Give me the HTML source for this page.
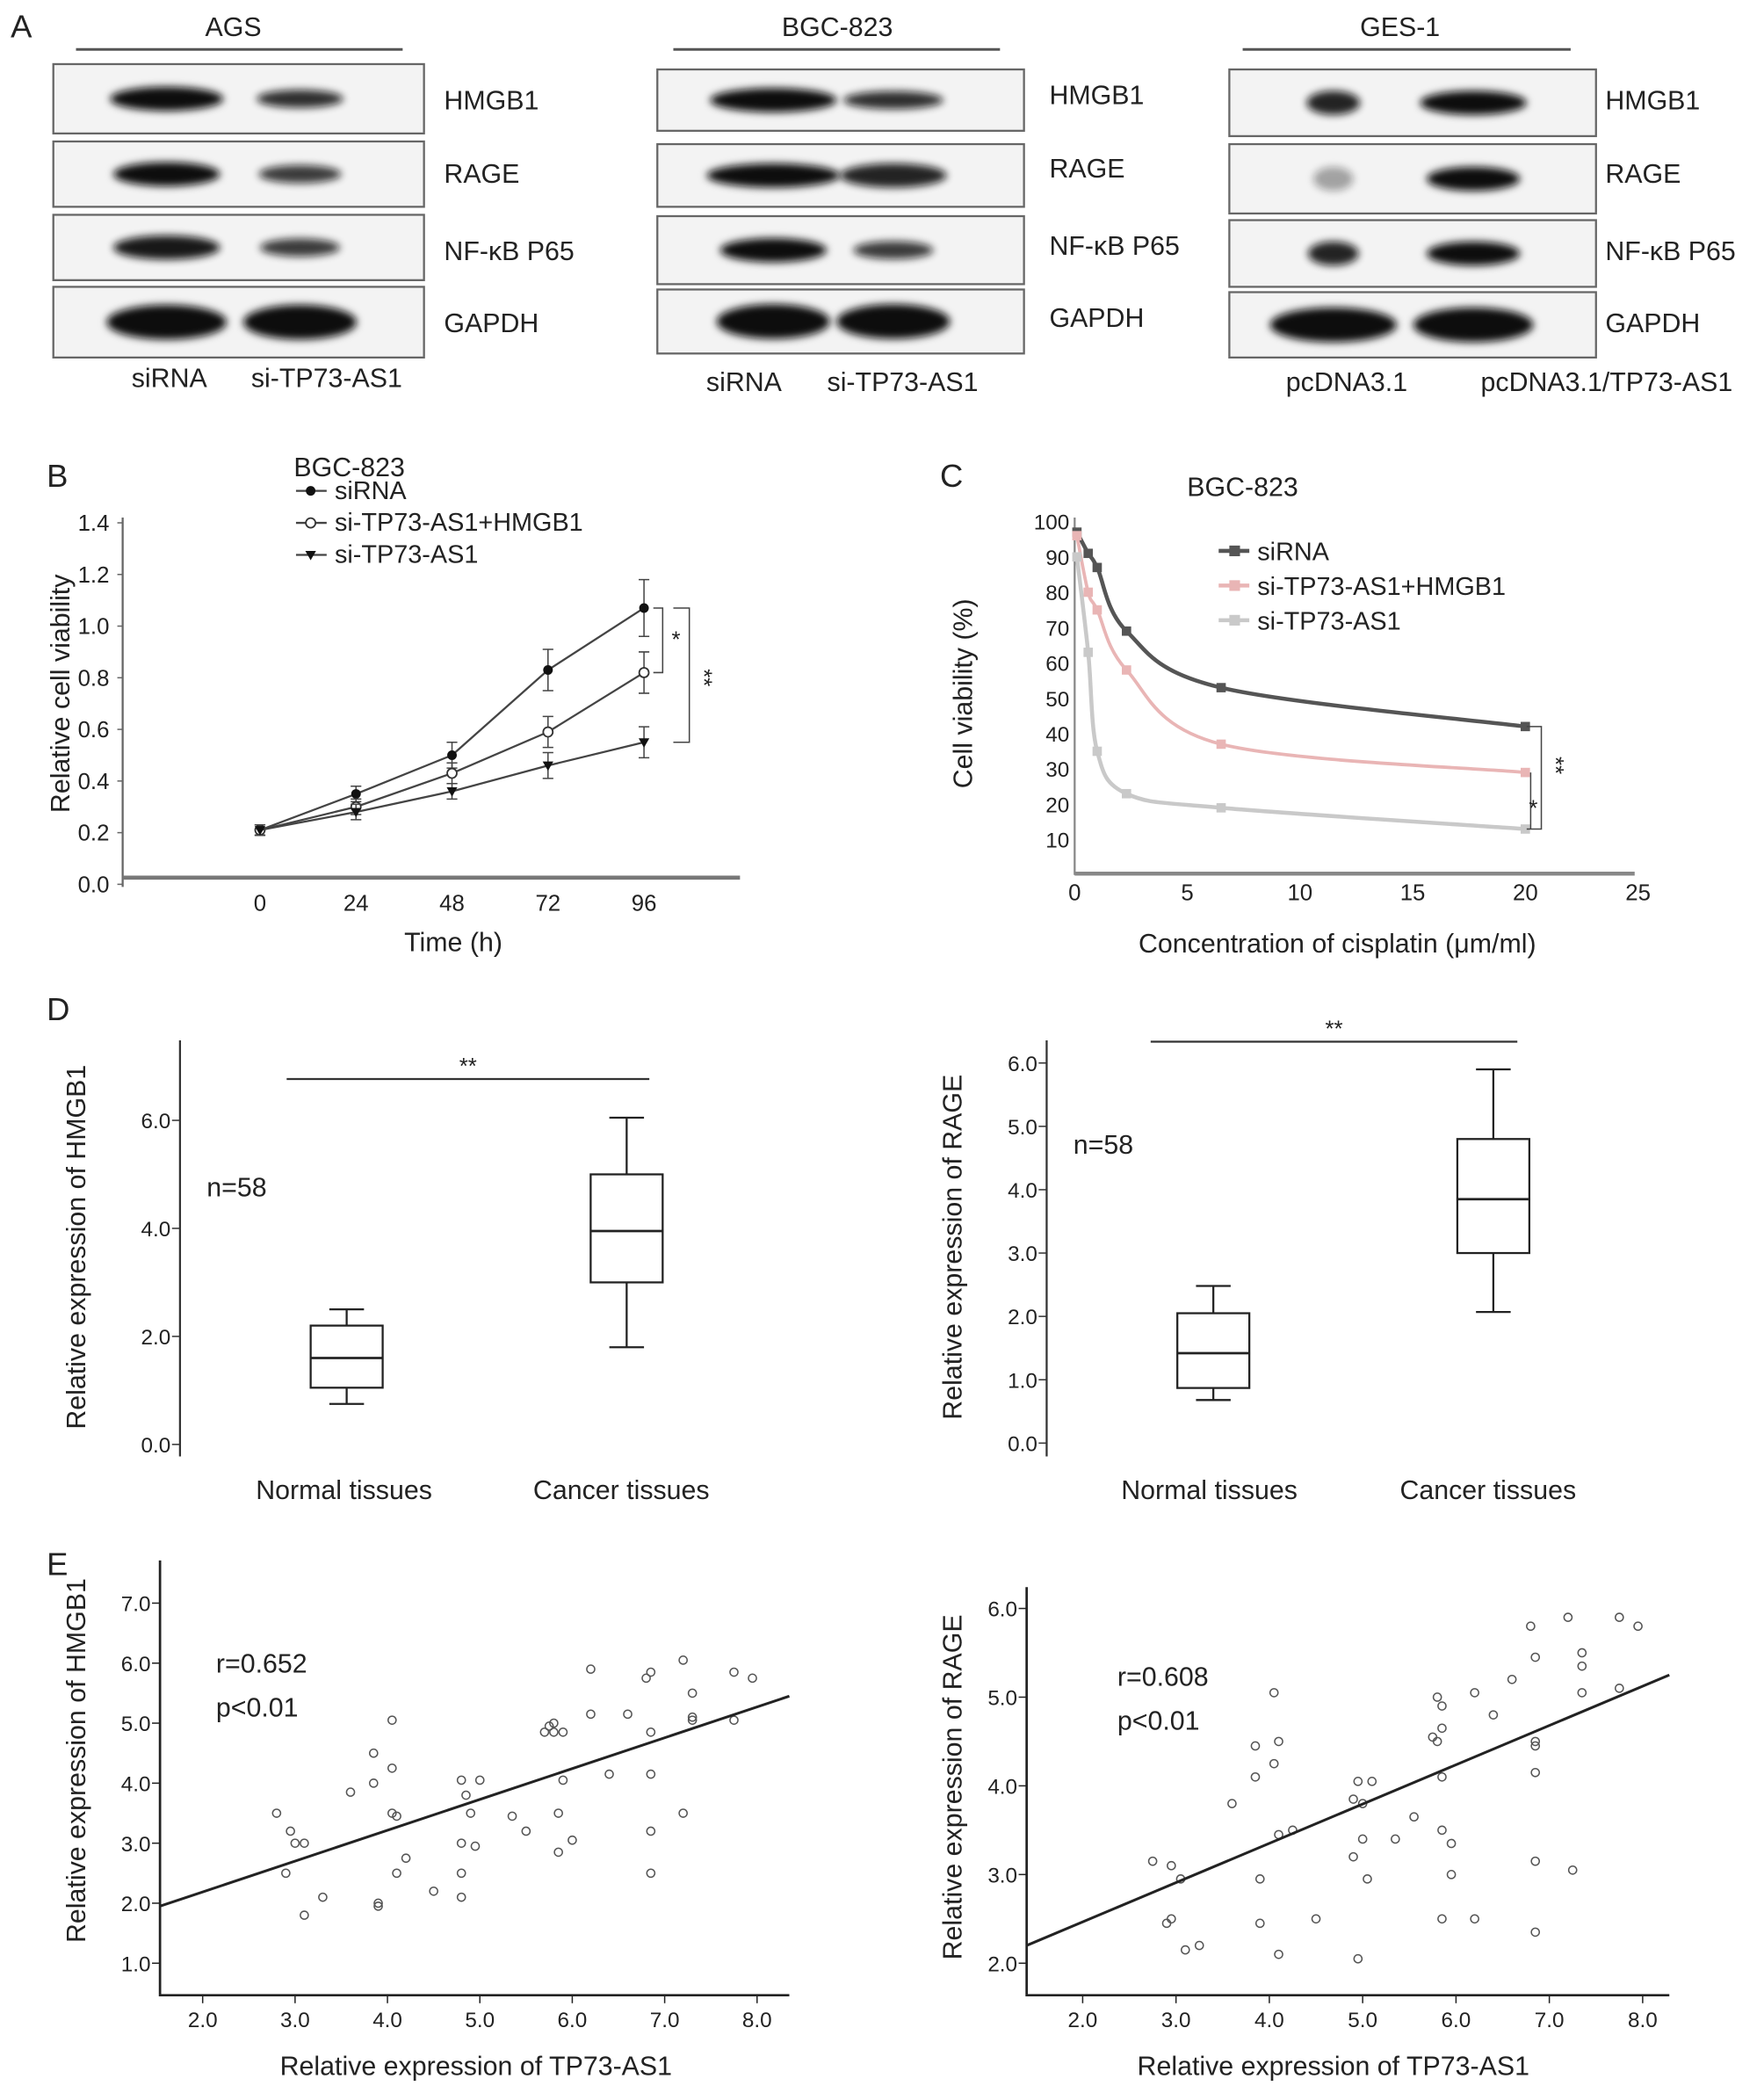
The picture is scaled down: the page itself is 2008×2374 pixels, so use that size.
<!DOCTYPE html>
<html><head><meta charset="utf-8">
<style>
html,body{margin:0;padding:0;background:#fff;}
svg{display:block;font-family:"Liberation Sans",sans-serif;}
text{fill:#222;}
</style></head>
<body>
<svg id="fig" width="2008" height="2374" viewBox="0 0 1323 1564" xmlns="http://www.w3.org/2000/svg">
<defs>
<filter id="blur" x="-30%" y="-100%" width="160%" height="300%"><feGaussianBlur stdDeviation="3"/></filter>
</defs>
</svg>
<script>
// ---------- Panel B data ----------
const bTimes = [0, 24, 48, 72, 96];
const bSiRNA = [0.21, 0.35, 0.50, 0.83, 1.07];
const bSiRNAErr = [0.02, 0.03, 0.05, 0.08, 0.11];
const bHmgb = [0.21, 0.30, 0.43, 0.59, 0.82];
const bHmgbErr = [0.02, 0.03, 0.04, 0.06, 0.08];
const bSiTP = [0.21, 0.28, 0.36, 0.46, 0.55];
const bSiTPErr = [0.02, 0.03, 0.03, 0.05, 0.06];
const bYTicks = [0.0, 0.2, 0.4, 0.6, 0.8, 1.0, 1.2, 1.4];
// ---------- Panel C data ----------
const cConc = [0.1, 0.6, 1.0, 2.3, 6.5, 20];
const cSiRNA = [97, 91, 87, 69, 53, 42];
const cHmgb = [96, 80, 75, 58, 37, 29];
const cSiTP = [90, 63, 35, 23, 19, 13];
const cYTicks = [10, 20, 30, 40, 50, 60, 70, 80, 90, 100];
const cXTicks = [0, 5, 10, 15, 20, 25];
// ---------- Panel D data (box plots: min,q1,median,q3,max) ----------
const dCats = ["Normal tissues", "Cancer tissues"];
const dHmgbBoxes = [[0.75, 1.05, 1.6, 2.2, 2.5], [1.8, 3.0, 3.95, 5.0, 6.05]];
const dRageBoxes = [[0.68, 0.87, 1.42, 2.05, 2.48], [2.07, 3.0, 3.85, 4.8, 5.9]];
const dHmgbTicks = [0.0, 2.0, 4.0, 6.0];
const dRageTicks = [0.0, 1.0, 2.0, 3.0, 4.0, 5.0, 6.0];
// ---------- Panel E data ----------
const eHmgbX = [2.8,2.9,2.95,3.0,3.1,3.1,3.3,3.6,3.85,3.85,3.9,3.9,4.05,4.05,4.05,4.1,4.1,4.2,4.5,4.8,4.8,4.8,4.8,4.85,4.9,4.95,5.0,5.35,5.5,5.7,5.75,5.8,5.8,5.85,5.85,5.9,5.9,6.0,6.2,6.2,6.4,6.6,6.8,6.85,6.85,6.85,6.85,6.85,7.2,7.2,7.3,7.3,7.3,7.75,7.75,7.95];
const eHmgbY = [3.5,2.5,3.2,3.0,3.0,1.8,2.1,3.85,4.0,4.5,2.0,1.95,5.05,4.25,3.5,3.45,2.5,2.75,2.2,4.05,3.0,2.5,2.1,3.8,3.5,2.95,4.05,3.45,3.2,4.85,4.95,5.0,4.85,3.5,2.85,4.05,4.85,3.05,5.9,5.15,4.15,5.15,5.75,5.85,4.85,4.15,3.2,2.5,6.05,3.5,5.5,5.1,5.05,5.85,5.05,5.75];
const eRageX = [2.75,2.9,2.95,2.95,3.05,3.1,3.25,3.6,3.85,3.85,3.9,3.9,4.05,4.05,4.1,4.1,4.1,4.25,4.5,4.9,4.9,4.95,4.95,5.0,5.0,5.05,5.1,5.35,5.55,5.75,5.8,5.8,5.85,5.85,5.85,5.85,5.85,5.95,5.95,6.2,6.2,6.4,6.6,6.8,6.85,6.85,6.85,6.85,6.85,6.85,7.2,7.25,7.35,7.35,7.35,7.75,7.75,7.95];
const eRageY = [3.15,2.45,2.5,3.1,2.95,2.15,2.2,3.8,4.1,4.45,2.95,2.45,5.05,4.25,4.5,3.45,2.1,3.5,2.5,3.85,3.2,4.05,2.05,3.8,3.4,2.95,4.05,3.4,3.65,4.55,5.0,4.5,4.65,4.9,4.1,3.5,2.5,3.35,3.0,5.05,2.5,4.8,5.2,5.8,5.45,4.5,4.45,4.15,3.15,2.35,5.9,3.05,5.5,5.35,5.05,5.9,5.1,5.8];
const eXTicks = [2.0, 3.0, 4.0, 5.0, 6.0, 7.0, 8.0];
const eHmgbYTicks = [1.0, 2.0, 3.0, 4.0, 5.0, 6.0, 7.0];
const eRageYTicks = [2.0, 3.0, 4.0, 5.0, 6.0];
const eHmgbFit = [1.95, 5.45];
const eRageFit = [2.2, 5.25];
// ---------- Blot band intensities ----------
const blotAGS = [[85,1,65,0.85],[80,1,62,0.8],[80,0.95,60,0.8],[90,1,85,1]];
const blotBGC = [[95,1,75,0.85],[100,1,80,0.9],[80,1,60,0.8],[85,1,85,1]];
const blotGES = [[40,0.9,80,1],[30,0.35,70,1],[38,0.9,70,1],[95,1,90,1]];

const NS = "http://www.w3.org/2000/svg";
const svg = document.getElementById("fig");
function mk(tag, attrs, parent) {
  const e = document.createElementNS(NS, tag);
  for (const k in attrs) e.setAttribute(k, attrs[k]);
  (parent || svg).appendChild(e);
  return e;
}
function txt(x, y, s, size, anchor, parent, extra) {
  const t = mk("text", Object.assign({x: x, y: y, "font-size": size, "text-anchor": anchor || "start"}, extra || {}), parent);
  t.textContent = s;
  return t;
}
function group(name) {
  const g = mk("g", {});
  
  
  return g;
}

// ================= Panel A =================
const pa = group("panel-a-western-blots");
let t = txt(8, 28, "A", 24, "start", pa);


const protLabels = ["HMGB1", "RAGE", "NF-\u03baB P65", "GAPDH"];
const blotSets = [
  {name: "AGS", title: "AGS", tx: 175, lx0: 57, lx1: 302, bx0: 40, bx1: 318, rows: [[48,100],[106,155],[161,210],[215,268]], labX: 333, labY: [82,137,195,249], c1: 125, c2: 225, data: blotAGS, bottom: ["siRNA", "si-TP73-AS1"], bottomX: [127, 245], bottomY: 290},
  {name: "BGC-823", title: "BGC-823", tx: 628, lx0: 505, lx1: 750, bx0: 493, bx1: 768, rows: [[52,98],[108,155],[162,213],[217,265]], labX: 787, labY: [78,133,191,245], c1: 580, c2: 670, data: blotBGC, bottom: ["siRNA", "si-TP73-AS1"], bottomX: [558, 677], bottomY: 293},
  {name: "GES-1", title: "GES-1", tx: 1050, lx0: 932, lx1: 1178, bx0: 922, bx1: 1197, rows: [[52,102],[108,160],[165,215],[219,268]], labX: 1204, labY: [82,137,195,249], c1: 1000, c2: 1105, data: blotGES, bottom: ["pcDNA3.1", "pcDNA3.1/TP73-AS1"], bottomX: [1010, 1205], bottomY: 293}
];
blotSets.forEach(function (s) {
  const g = mk("g", {}, pa);
  
  
  const tt = txt(s.tx, 27, s.title, 20, "middle", g);
  
  
  const ln = mk("line", {x1: s.lx0, x2: s.lx1, y1: 37, y2: 37, stroke: "#555", "stroke-width": 2}, g);
  
  
  s.rows.forEach(function (r, i) {
    const box = mk("rect", {x: s.bx0, y: r[0], width: s.bx1 - s.bx0, height: r[1] - r[0], fill: "#f3f3f3", stroke: "#666", "stroke-width": 1.5}, g);
    
    
    const cy = (r[0] + r[1]) / 2;
    const d = s.data[i];
    const h = (i === 3) ? 13 : 9;
    const b1 = mk("ellipse", {cx: s.c1, cy: cy, rx: d[0] / 2, ry: h, fill: "#111", opacity: d[1], filter: "url(#blur)"}, g);
    
    
    const b2 = mk("ellipse", {cx: s.c2, cy: cy, rx: d[2] / 2, ry: h * (d[3] < 0.9 ? 0.75 : 1), fill: "#111", opacity: d[3], filter: "url(#blur)"}, g);
    
    
    const pl = txt(s.labX, s.labY[i], protLabels[i], 20, "start", g);
    
    
  });
  s.bottom.forEach(function (lab, i) {
    const bl = txt(s.bottomX[i], s.bottomY, lab, 20, "middle", g);
    
    
  });
});

// ================= Panel B =================
const pb = group("panel-b-viability-chart");
t = txt(35, 365, "B", 24, "start", pb);


t = txt(262, 357, "BGC-823", 20, "middle", pb);


function bx(v) { return 195 + v * 3.0; }
function by(v) { return 663 - v * 193.6; }
let ax = mk("line", {x1: 92, x2: 92, y1: 388, y2: 665, stroke: "#666", "stroke-width": 1.5}, pb);


ax = mk("line", {x1: 92, x2: 555, y1: 658, y2: 658, stroke: "#777", "stroke-width": 3}, pb);


bYTicks.forEach(function (v) {
  const tk = mk("line", {x1: 88, x2: 92, y1: by(v), y2: by(v), stroke: "#666"}, pb);
  
  
  const tl = txt(82, by(v) + 6, v.toFixed(1), 17, "end", pb);
  
  
});
bTimes.forEach(function (v) {
  const tl = txt(bx(v), 683, String(v), 17, "middle", pb);
  
  
});
t = txt(340, 713, "Time (h)", 20, "middle", pb);


t = txt(0, 0, "Relative cell viability", 20, "middle", pb, {transform: "translate(52,520) rotate(-90)"});


const bSeries = [
  {name: "siRNA", vals: bSiRNA, err: bSiRNAErr, marker: "filled-circle"},
  {name: "si-TP73-AS1+HMGB1", vals: bHmgb, err: bHmgbErr, marker: "open-circle"},
  {name: "si-TP73-AS1", vals: bSiTP, err: bSiTPErr, marker: "triangle"}
];
function drawMarker(kind, x, y, parent, color) {
  let m;
  if (kind === "filled-circle") m = mk("circle", {cx: x, cy: y, r: 3.6, fill: color || "#111"}, parent);
  else if (kind === "open-circle") m = mk("circle", {cx: x, cy: y, r: 3.6, fill: "#fff", stroke: "#333", "stroke-width": 1.2}, parent);
  else m = mk("path", {d: "M" + (x - 4) + "," + (y - 3) + " L" + (x + 4) + "," + (y - 3) + " L" + x + "," + (y + 4) + "Z", fill: "#111"}, parent);
  return m;
}
bSeries.forEach(function (s, si) {
  const g = mk("g", {}, pb);
  
  
  const pts = bTimes.map(function (tm, i) { return bx(tm) + "," + by(s.vals[i]); }).join(" ");
  const pl = mk("polyline", {points: pts, fill: "none", stroke: "#444", "stroke-width": 1.5}, g);
  
  
  bTimes.forEach(function (tm, i) {
    const x = bx(tm);
    const eb = mk("path", {d: "M" + x + "," + by(s.vals[i] - s.err[i]) + "V" + by(s.vals[i] + s.err[i]) + "M" + (x - 4) + "," + by(s.vals[i] - s.err[i]) + "h8M" + (x - 4) + "," + by(s.vals[i] + s.err[i]) + "h8", stroke: "#444", fill: "none", "stroke-width": 1}, g);
    
    
    const m = drawMarker(s.marker, x, by(s.vals[i]), g);
    
    
  });
  const ly = 374 + si * 24;
  const ll = mk("line", {x1: 222, x2: 245, y1: ly - 6, y2: ly - 6, stroke: "#444", "stroke-width": 1.5}, g);
  
  
  const lm = drawMarker(s.marker, 233, ly - 6, g);
  
  
  const lt = txt(251, ly, s.name, 19, "start", g);
  
  
});
let br = mk("path", {d: "M490," + by(1.07) + "h7V" + by(0.82) + "h-7", fill: "none", stroke: "#444"}, pb);


t = txt(507, by(0.95) + 6, "*", 17, "middle", pb);


br = mk("path", {d: "M505," + by(1.07) + "h12V" + by(0.55) + "h-12", fill: "none", stroke: "#444"}, pb);


t = txt(0, 0, "**", 17, "middle", pb, {transform: "translate(522," + by(0.8) + ") rotate(90)"});



// ================= Panel C =================
const pc = group("panel-c-cisplatin-chart");
t = txt(705, 365, "C", 24, "start", pc);


t = txt(932, 372, "BGC-823", 20, "middle", pc);


function cx(v) { return 806 + v * 16.9; }
function cy(v) { return 656 - v * 2.65; }
ax = mk("line", {x1: 806, x2: 806, y1: 388, y2: 656, stroke: "#888", "stroke-width": 1.5}, pc);


ax = mk("line", {x1: 806, x2: 1226, y1: 655, y2: 655, stroke: "#888", "stroke-width": 3}, pc);


cYTicks.forEach(function (v) {
  const tl = txt(802, cy(v) + 6, String(v), 16, "end", pc);
  
  
});
cXTicks.forEach(function (v) {
  const tl = txt(cx(v), 675, String(v), 17, "middle", pc);
  
  
});
t = txt(1003, 714, "Concentration of cisplatin (\u03bcm/ml)", 20, "middle", pc);


t = txt(0, 0, "Cell viability (%)", 20, "middle", pc, {transform: "translate(729,520) rotate(-90)"});


function smoothPath(xs, ys) {
  const p = xs.map(function (x, i) { return [x, ys[i]]; });
  let d = "M" + p[0][0] + "," + p[0][1];
  for (let i = 0; i < p.length - 1; i++) {
    const p0 = p[i - 1] || p[i], p1 = p[i], p2 = p[i + 1], p3 = p[i + 2] || p2;
    const c1 = [p1[0] + (p2[0] - p0[0]) / 6, p1[1] + (p2[1] - p0[1]) / 6];
    const c2 = [p2[0] - (p3[0] - p1[0]) / 6, p2[1] - (p3[1] - p1[1]) / 6];
    d += " C" + c1[0] + "," + c1[1] + " " + c2[0] + "," + c2[1] + " " + p2[0] + "," + p2[1];
  }
  return d;
}
const cSeries = [
  {name: "siRNA", vals: cSiRNA, color: "#555", w: 3},
  {name: "si-TP73-AS1+HMGB1", vals: cHmgb, color: "#e9b5b5", w: 2.5},
  {name: "si-TP73-AS1", vals: cSiTP, color: "#c9c9c9", w: 3}
];
cSeries.forEach(function (s, si) {
  const g = mk("g", {}, pc);
  
  
  const p = mk("path", {d: smoothPath(cConc.map(cx), s.vals.map(cy)), fill: "none", stroke: s.color, "stroke-width": s.w}, g);
  
  
  cConc.forEach(function (c, i) {
    const m = mk("rect", {x: cx(c) - 3.5, y: cy(s.vals[i]) - 3.5, width: 7, height: 7, fill: s.color}, g);
    
    
  });
  const ly = 420 + si * 26;
  const ll = mk("line", {x1: 914, x2: 937, y1: ly - 7, y2: ly - 7, stroke: s.color, "stroke-width": 3}, g);
  
  
  const lm = mk("rect", {x: 922, y: ly - 11, width: 8, height: 8, fill: s.color}, g);
  
  
  const lt = txt(943, ly, s.name, 19, "start", g);
  
  
});
br = mk("path", {d: "M1145," + cy(42) + "h11V" + cy(13) + "h-11", fill: "none", stroke: "#444"}, pc);


t = txt(0, 0, "**", 17, "middle", pc, {transform: "translate(1161," + cy(31) + ") rotate(90)"});


br = mk("path", {d: "M1148," + cy(29) + "V" + cy(13), fill: "none", stroke: "#444"}, pc);


t = txt(1150, cy(19) + 6, "*", 17, "middle", pc);



// ================= Panel D =================
const pd = group("panel-d-box-plots");
t = txt(35, 765, "D", 24, "start", pd);


function boxChart(o) {
  const g = mk("g", {}, pd);
  
  
  const Y = function (v) { return o.y0 - v * o.k; };
  const a = mk("line", {x1: o.ax, x2: o.ax, y1: 780, y2: 1092, stroke: "#333", "stroke-width": 1.5}, g);
  
  
  o.ticks.forEach(function (v) {
    const tk = mk("line", {x1: o.ax - 6, x2: o.ax, y1: Y(v), y2: Y(v), stroke: "#333"}, g);
    
    
    const tl = txt(o.ax - 7, Y(v) + 6, v.toFixed(1), 16, "end", g);
    
    
  });
  o.boxes.forEach(function (b, i) {
    const xc = o.xs[i], w = 27;
    const bg = mk("g", {}, g);
    
    
    const wh = mk("path", {d: "M" + xc + "," + Y(b[0]) + "V" + Y(b[1]) + "M" + xc + "," + Y(b[3]) + "V" + Y(b[4]) + "M" + (xc - 13) + "," + Y(b[0]) + "h26M" + (xc - 13) + "," + Y(b[4]) + "h26", stroke: "#222", "stroke-width": 1.5, fill: "none"}, bg);
    
    
    const r = mk("rect", {x: xc - w, y: Y(b[3]), width: 2 * w, height: Y(b[1]) - Y(b[3]), fill: "#fff", stroke: "#222", "stroke-width": 1.5}, bg);
    
    
    const md = mk("line", {x1: xc - w, x2: xc + w, y1: Y(b[2]), y2: Y(b[2]), stroke: "#222", "stroke-width": 1.8}, bg);
    
    
    const cl = txt(o.labX[i], 1124, dCats[i], 20, "middle", g);
    
    
  });
  const sl = mk("line", {x1: o.sig[0], x2: o.sig[1], y1: o.sig[2], y2: o.sig[2], stroke: "#333", "stroke-width": 1.5}, g);
  
  
  const st = txt((o.sig[0] + o.sig[1]) / 2, o.sig[2] - 4, "**", 17, "middle", g);
  
  
  const n = txt(o.n[0], o.n[1], "n=58", 20, "start", g);
  
  
  const yl = txt(0, 0, o.ylab, 20, "middle", g, {transform: "translate(" + o.ylx + ",935) rotate(-90)"});
  
  
}
boxChart({name: "hmgb1-box-chart", ax: 135, y0: 1083, k: 40.5, ticks: dHmgbTicks, boxes: dHmgbBoxes, xs: [260, 470], labX: [258, 466], sig: [215, 487, 809], n: [155, 897], ylab: "Relative expression of HMGB1", ylx: 64});
boxChart({name: "rage-box-chart", ax: 785, y0: 1082, k: 47.5, ticks: dRageTicks, boxes: dRageBoxes, xs: [910, 1120], labX: [907, 1116], sig: [863, 1138, 781], n: [805, 865], ylab: "Relative expression of RAGE", ylx: 721});

// ================= Panel E =================
const pe = group("panel-e-scatter-plots");
t = txt(35, 1181, "E", 24, "start", pe);


function scatter(o) {
  const g = mk("g", {}, pe);
  
  
  const X = function (v) { return o.x2 + (v - 2) * o.kx; };
  const Y = function (v) { return o.yb - (v - o.ybv) * o.ky; };
  const a = mk("path", {d: "M" + o.ax + "," + o.top + "V" + 1496 + "H" + o.right, fill: "none", stroke: "#222", "stroke-width": 1.8}, g);
  
  
  o.yticks.forEach(function (v) {
    const tk = mk("line", {x1: o.ax - 6, x2: o.ax, y1: Y(v), y2: Y(v), stroke: "#222"}, g);
    
    
    const tl = txt(o.ax - 7, Y(v) + 6, v.toFixed(1), 16, "end", g);
    
    
  });
  eXTicks.forEach(function (v) {
    const tk = mk("line", {x1: X(v), x2: X(v), y1: 1496, y2: 1502, stroke: "#222"}, g);
    
    
    const tl = txt(X(v), 1520, v.toFixed(1), 16, "middle", g);
    
    
  });
  o.xs.forEach(function (xv, i) {
    const c = mk("circle", {cx: X(xv), cy: Y(o.ys[i]), r: 3, fill: "none", stroke: "#555", "stroke-width": 1}, g);
    
    
  });
  const xa = (o.ax - o.x2) / o.kx + 2, xb = (o.right - o.x2) / o.kx + 2;
  const fl = mk("line", {x1: X(xa), y1: Y(o.fit[0]), x2: X(xb), y2: Y(o.fit[1]), stroke: "#222", "stroke-width": 2}, g);
  
  
  const r = txt(o.rx, o.ry, o.r, 20, "start", g);
  
  
  const p = txt(o.rx, o.ry + 33, "p<0.01", 20, "start", g);
  
  
  const xl = txt(o.xlx, 1556, "Relative expression of TP73-AS1", 20, "middle", g);
  
  
  const yl = txt(0, 0, o.ylab, 20, "middle", g, {transform: "translate(" + o.ylx + "," + o.yly + ") rotate(-90)"});
  
  
}
scatter({name: "hmgb1-scatter", ax: 120, right: 592, top: 1170, x2: 152, kx: 69.3, yb: 1472, ybv: 1.0, ky: 45, yticks: eHmgbYTicks, xs: eHmgbX, ys: eHmgbY, fit: eHmgbFit, r: "r=0.652", rx: 162, ry: 1254, xlx: 357, ylab: "Relative expression of HMGB1", ylx: 64, yly: 1320});
scatter({name: "rage-scatter", ax: 770, right: 1252, top: 1190, x2: 812, kx: 70, yb: 1472, ybv: 2.0, ky: 66.5, yticks: eRageYTicks, xs: eRageX, ys: eRageY, fit: eRageFit, r: "r=0.608", rx: 838, ry: 1264, xlx: 1000, ylab: "Relative expression of RAGE", ylx: 721, yly: 1340});
</script>
</body></html>
